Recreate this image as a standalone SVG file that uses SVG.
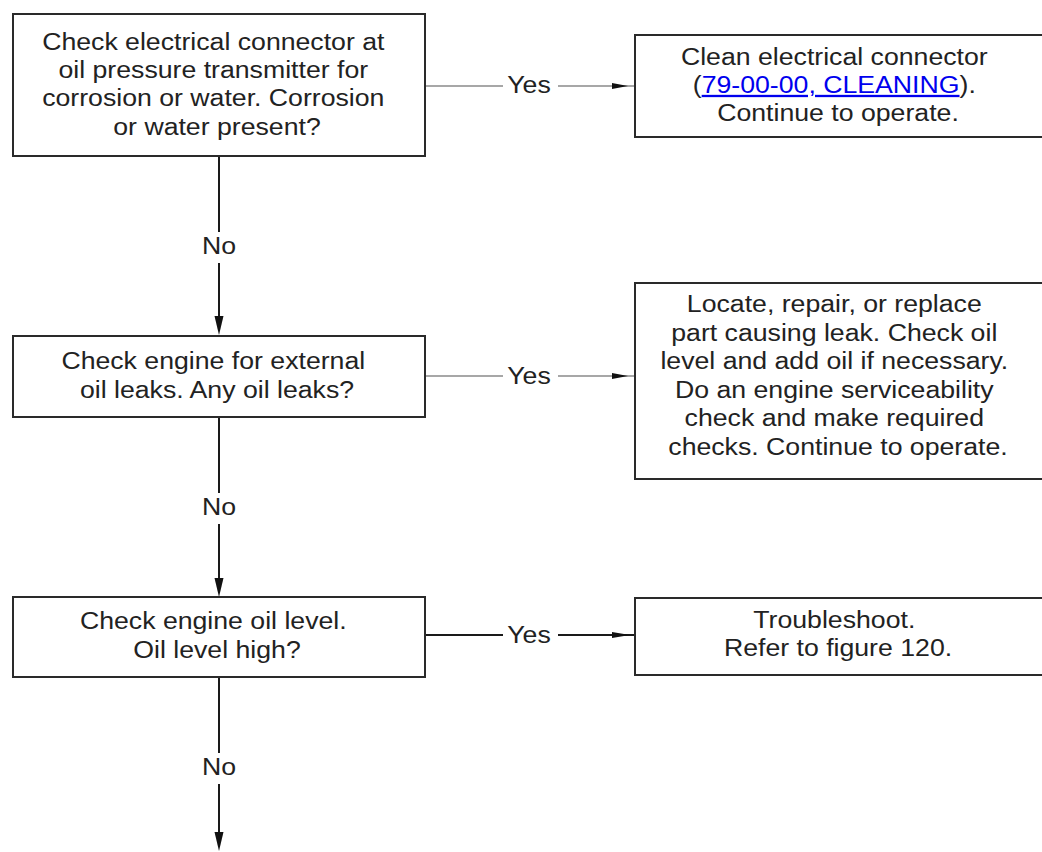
<svg xmlns="http://www.w3.org/2000/svg" width="1042" height="852" viewBox="0 0 1042 852">
  <defs>
    <style>
      .box { fill: #ffffff; stroke: #2a2a2a; stroke-width: 2; }
      .txt { font-family: "Liberation Sans", Arial, sans-serif; font-size: 23px; fill: #222222; text-anchor: middle; }
      .link { fill: #0000ee; text-decoration: underline; }
      .wire { fill: none; stroke: #8a8a8a; stroke-width: 1.3; }
      .wire-dark { fill: none; stroke: #1a1a1a; stroke-width: 2; }
      .head { fill: #111111; }
    </style>
  </defs>
  <rect width="1042" height="852" fill="#ffffff"/>

  <!-- connectors -->
  <g id="connectors">
    <!-- Yes: corrosion check -> clean connector -->
    <path class="wire" d="M425 86 H503 M558 86 H635"/>
    <polygon class="head" points="612,83 628,86 612,89"/>
    <text class="txt" transform="translate(529 0) scale(1.16 1)"><tspan x="0" y="93">Yes</tspan></text>

    <!-- No: corrosion check -> leak check -->
    <path class="wire-dark" d="M219 156 V232 M219 263 V320"/>
    <polygon class="head" points="214.5,316 223.5,316 219,335"/>
    <text class="txt" transform="translate(219 0) scale(1.16 1)"><tspan x="0" y="254">No</tspan></text>

    <!-- Yes: leak check -> repair leak -->
    <path class="wire" d="M425 376 H503 M558 376 H635"/>
    <polygon class="head" points="612,373 628,376 612,379"/>
    <text class="txt" transform="translate(529 0) scale(1.16 1)"><tspan x="0" y="384">Yes</tspan></text>

    <!-- No: leak check -> oil level check -->
    <path class="wire-dark" d="M219 417 V493 M219 524 V582"/>
    <polygon class="head" points="214.5,578 223.5,578 219,597"/>
    <text class="txt" transform="translate(219 0) scale(1.16 1)"><tspan x="0" y="515">No</tspan></text>

    <!-- Yes: oil level check -> troubleshoot -->
    <path class="wire-dark" d="M425 635 H503 M558 635 H635"/>
    <polygon class="head" points="612,632 630,635 612,638"/>
    <text class="txt" transform="translate(529 0) scale(1.16 1)"><tspan x="0" y="643">Yes</tspan></text>

    <!-- No: oil level check -> next step -->
    <path class="wire-dark" d="M219 677 V753 M219 784 V836"/>
    <polygon class="head" points="214.5,832 223.5,832 219,851"/>
    <text class="txt" transform="translate(219 0) scale(1.16 1)"><tspan x="0" y="775">No</tspan></text>
  </g>

  <!-- decision: connector corrosion -->
  <g id="check-connector">
    <rect class="box" x="13" y="14" width="412" height="142"/>
    <text class="txt" transform="translate(217 0) scale(1.16 1)">
      <tspan x="0" y="50">Check electrical connector at</tspan>
      <tspan x="0" y="78">oil pressure transmitter for</tspan>
      <tspan x="0" y="106">corrosion or water. Corrosion</tspan>
      <tspan x="0" y="135">or water present?</tspan>
    </text>
  </g>

  <!-- action: clean connector -->
  <g id="clean-connector">
    <rect class="box" x="635" y="35" width="420" height="102"/>
    <text class="txt" transform="translate(838 0) scale(1.16 1)">
      <tspan x="0" y="65">Clean electrical connector</tspan>
      <tspan x="0" y="93">(<tspan class="link">79-00-00, CLEANING</tspan>).</tspan>
      <tspan x="0" y="121">Continue to operate.</tspan>
    </text>
  </g>

  <!-- decision: external leaks -->
  <g id="check-leaks">
    <rect class="box" x="13" y="336" width="412" height="81"/>
    <text class="txt" transform="translate(217 0) scale(1.16 1)">
      <tspan x="0" y="369">Check engine for external</tspan>
      <tspan x="0" y="398">oil leaks. Any oil leaks?</tspan>
    </text>
  </g>

  <!-- action: repair leak -->
  <g id="repair-leak">
    <rect class="box" x="635" y="283" width="420" height="196"/>
    <text class="txt" transform="translate(838 0) scale(1.16 1)">
      <tspan x="0" y="312">Locate, repair, or replace</tspan>
      <tspan x="0" y="341">part causing leak. Check oil</tspan>
      <tspan x="0" y="369">level and add oil if necessary.</tspan>
      <tspan x="0" y="398">Do an engine serviceability</tspan>
      <tspan x="0" y="426">check and make required</tspan>
      <tspan x="0" y="455">checks. Continue to operate.</tspan>
    </text>
  </g>

  <!-- decision: oil level -->
  <g id="check-level">
    <rect class="box" x="13" y="597" width="412" height="80"/>
    <text class="txt" transform="translate(217 0) scale(1.16 1)">
      <tspan x="0" y="629">Check engine oil level.</tspan>
      <tspan x="0" y="658">Oil level high?</tspan>
    </text>
  </g>

  <!-- action: troubleshoot -->
  <g id="troubleshoot">
    <rect class="box" x="635" y="598" width="420" height="77"/>
    <text class="txt" transform="translate(838 0) scale(1.16 1)">
      <tspan x="0" y="628">Troubleshoot.</tspan>
      <tspan x="0" y="656">Refer to figure 120.</tspan>
    </text>
  </g>
</svg>
